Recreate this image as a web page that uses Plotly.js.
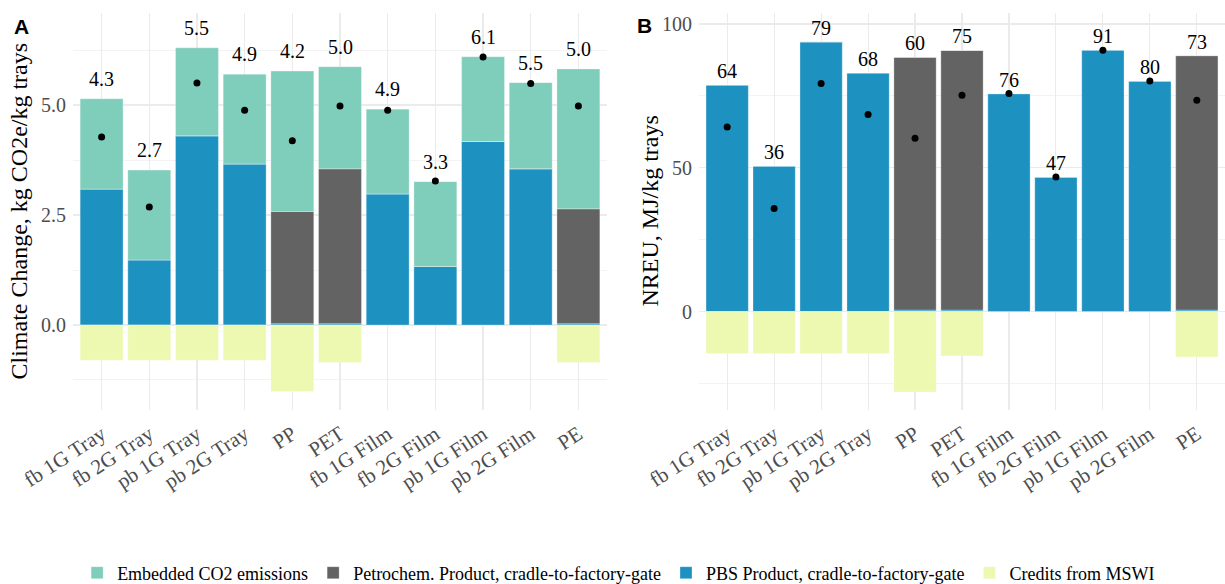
<!DOCTYPE html>
<html>
<head>
<meta charset="utf-8">
<script src="https://cdn.plot.ly/plotly-3.0.1.min.js"></script>
<style>
  html, body { margin: 0; padding: 0; background: #ffffff; }
  #chart { width: 1225px; height: 584px; }
</style>
</head>
<body>
<div id="chart"></div>
<script>
// ---- Data ----
const categories = ["fb 1G Tray", "fb 2G Tray", "pb 1G Tray", "pb 2G Tray", "PP", "PET",
                    "fb 1G Film", "fb 2G Film", "pb 1G Film", "pb 2G Film", "PE"];

// Panel A: Climate change, kg CO2e / kg trays
const pbsA      = [3.09, 1.48, 4.30, 3.66, 0.03, 0.03, 2.98, 1.33, 4.17, 3.55, 0.03];
const petroA    = [0, 0, 0, 0, 2.55, 3.52, 0, 0, 0, 0, 2.61];
const embeddedA = [2.05, 2.04, 2.00, 2.04, 3.19, 2.32, 1.93, 1.93, 1.93, 1.96, 3.18];
const creditsA  = [-0.80, -0.80, -0.80, -0.80, -1.51, -0.85, 0, 0, 0, 0, -0.85];
const netA      = [4.27, 2.68, 5.50, 4.88, 4.19, 4.98, 4.88, 3.27, 6.09, 5.49, 4.98];
const labelsA   = ["4.3", "2.7", "5.5", "4.9", "4.2", "5.0", "4.9", "3.3", "6.1", "5.5", "5.0"];

// Panel B: NREU, MJ / kg trays
const pbsB      = [78.8, 50.6, 93.8, 83.0, 0.5, 0.5, 75.8, 46.8, 91.0, 80.2, 0.5];
const petroB    = [0, 0, 0, 0, 87.9, 90.3, 0, 0, 0, 0, 88.5];
const embeddedB = [0, 0, 0, 0, 0, 0, 0, 0, 0, 0, 0];
const creditsB  = [-14.6, -14.6, -14.6, -14.6, -28.0, -15.5, 0, 0, 0, 0, -15.8];
const netB      = [64.2, 35.8, 79.3, 68.5, 60.3, 75.2, 75.8, 46.8, 90.9, 80.2, 73.5];
const labelsB   = ["64", "36", "79", "68", "60", "75", "76", "47", "91", "80", "73"];

// ---- Styles ----
const colEmbedded = "#7fcdbb";
const colPetro    = "#636363";
const colPBS      = "#1d91c0";
const colCredits  = "#edf8b1";
const serif = "Liberation Serif";
const sans = "Liberation Sans";
const gridCol = "#ebebeb";

function barTrace(name, y, color, xa, ya, rank, show) {
  return {
    type: "bar", name: name, x: categories, y: y,
    xaxis: xa, yaxis: ya,
    marker: { color: color, line: { color: "rgba(255,255,255,0.5)", width: 0.6 } },
    legendgroup: name, legendrank: rank, showlegend: show,
    hoverinfo: "x+y+name"
  };
}

const traces = [
  barTrace("PBS Product, cradle-to-factory-gate", pbsA, colPBS, "x", "y", 3, true),
  barTrace("Petrochem. Product, cradle-to-factory-gate", petroA, colPetro, "x", "y", 2, true),
  barTrace("Embedded CO2 emissions", embeddedA, colEmbedded, "x", "y", 1, true),
  barTrace("Credits from MSWI", creditsA, colCredits, "x", "y", 4, true),
  barTrace("PBS Product, cradle-to-factory-gate", pbsB, colPBS, "x2", "y2", 3, false),
  barTrace("Petrochem. Product, cradle-to-factory-gate", petroB, colPetro, "x2", "y2", 2, false),
  barTrace("Embedded CO2 emissions", embeddedB, colEmbedded, "x2", "y2", 1, false),
  barTrace("Credits from MSWI", creditsB, colCredits, "x2", "y2", 4, false),
  { type: "scatter", mode: "markers", x: categories, y: netA, xaxis: "x", yaxis: "y",
    marker: { color: "#000000", size: 7 }, showlegend: false, cliponaxis: false, hoverinfo: "x+y" },
  { type: "scatter", mode: "markers", x: categories, y: netB, xaxis: "x2", yaxis: "y2",
    marker: { color: "#000000", size: 7 }, showlegend: false, cliponaxis: false, hoverinfo: "x+y" }
];

// value labels above the positive stack
const annotations = [];
categories.forEach((c, i) => {
  const topA = pbsA[i] + petroA[i] + embeddedA[i];
  annotations.push({ x: c, y: topA, xref: "x", yref: "y", text: labelsA[i], showarrow: false,
    yshift: 20, yanchor: "middle", font: { family: serif, size: 20, color: "#000000" } });
  const topB = pbsB[i] + petroB[i] + embeddedB[i];
  annotations.push({ x: c, y: topB, xref: "x2", yref: "y2", text: labelsB[i], showarrow: false,
    yshift: 14, yanchor: "middle", font: { family: serif, size: 20, color: "#000000" } });
});
// panel letters
annotations.push({ xref: "paper", yref: "paper", x: 12 / 1225, y: 0.967, xanchor: "left", yanchor: "middle",
  text: "<b>A</b>", showarrow: false, font: { family: sans, size: 21, color: "#000" } });
annotations.push({ xref: "paper", yref: "paper", x: 635 / 1225, y: 0.968, xanchor: "left", yanchor: "middle",
  text: "<b>B</b>", showarrow: false, font: { family: sans, size: 21, color: "#000" } });
// axis titles
annotations.push({ xref: "paper", yref: "paper", x: 18 / 1225, y: 0.5, xanchor: "center", yanchor: "middle",
  textangle: -90, text: "Climate Change, kg CO2e/kg trays", showarrow: false,
  font: { family: serif, size: 24, color: "#000" } });
annotations.push({ xref: "paper", yref: "paper", x: 649 / 1225, y: 0.5, xanchor: "center", yanchor: "middle",
  textangle: -90, text: "NREU, MJ/kg trays", showarrow: false,
  font: { family: serif, size: 24, color: "#000" } });

const xCommon = {
  type: "category", range: [-0.6, 10.6], showgrid: true, gridcolor: gridCol, gridwidth: 1.1,
  zeroline: false, showline: false, ticks: "", tickangle: -33,
  tickfont: { family: serif, size: 21, color: "#4d4d4d" }, ticklabelstandoff: 7,
  automargin: false, fixedrange: true
};
const yCommon = {
  showgrid: true, gridcolor: gridCol, gridwidth: 1.1, zeroline: false, showline: false, ticks: "",
  tickfont: { family: serif, size: 20, color: "#4d4d4d" }, ticklabelstandoff: 6,
  automargin: false, fixedrange: true, domain: [0, 1]
};

const layout = {
  width: 1225, height: 584,
  margin: { l: 0, r: 0, t: 13, b: 174 },
  paper_bgcolor: "#ffffff", plot_bgcolor: "#ffffff",
  barmode: "relative", bargap: 0.1,
  font: { family: serif, color: "#000" },
  xaxis: Object.assign({}, xCommon, { domain: [73 / 1225, 607 / 1225], anchor: "y" }),
  xaxis2: Object.assign({}, xCommon, { domain: [699 / 1225, 1], anchor: "y2" }),
  yaxis: Object.assign({}, yCommon, { anchor: "x", range: [-1.932, 7.091], tick0: 0, dtick: 2.5,
    tickformat: ".1f",
    minor: { tick0: 0, dtick: 1.25, showgrid: true, gridcolor: gridCol, gridwidth: 0.6 } }),
  yaxis2: Object.assign({}, yCommon, { anchor: "x2", range: [-34.26, 103.83], tick0: 0, dtick: 50,
    minor: { tick0: 0, dtick: 25, showgrid: true, gridcolor: gridCol, gridwidth: 0.6 } }),
  showlegend: true,
  legend: { orientation: "h", x: 0.505, xanchor: "center", yref: "container", y: 11 / 584, yanchor: "middle",
    traceorder: "normal", font: { family: serif, size: 18, color: "#000" }, itemwidth: 30,
    bgcolor: "rgba(0,0,0,0)" },
  annotations: annotations
};

Plotly.newPlot("chart", traces, layout, { displayModeBar: false, staticPlot: true });
</script>
</body>
</html>
